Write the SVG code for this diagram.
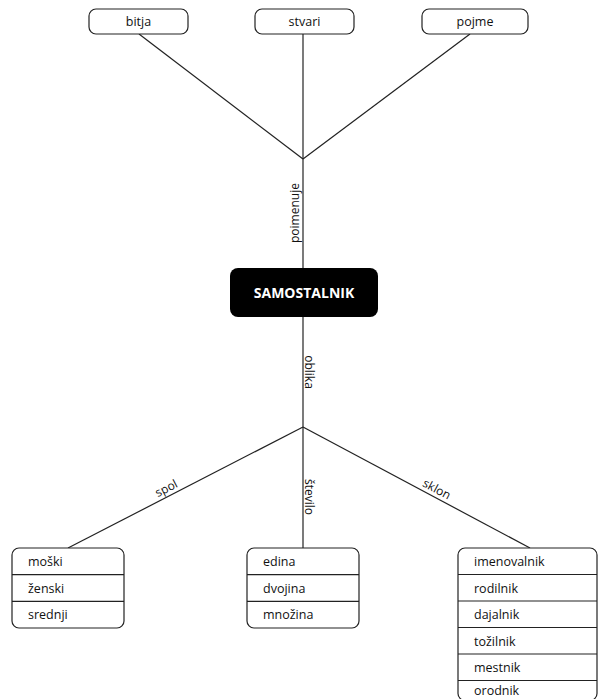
<svg xmlns="http://www.w3.org/2000/svg" width="605" height="699" viewBox="0 0 605 699">
<style>
.bg{fill:#fff}
.box{fill:#fff;stroke:#222;stroke-width:1.2}
.sep{stroke:#222;stroke-width:1.2}
.conn{stroke:#222;stroke-width:1.2;fill:none}
.t{font-family:"Open Sans","DejaVu Sans",sans-serif;font-size:12.5px;fill:#111}
.c{text-anchor:middle}
.main{font-family:"Open Sans","DejaVu Sans",sans-serif;font-size:14px;font-weight:bold;fill:#fff;text-anchor:middle}
.lbl{font-family:"Open Sans","DejaVu Sans",sans-serif;font-size:12px;fill:#111;text-anchor:middle}
</style>
<rect class="bg" x="0" y="0" width="605" height="699"/>
<g id="connectors">
<line class="conn" x1="139" y1="34" x2="303" y2="159"/>
<line class="conn" x1="303" y1="34" x2="303" y2="159"/>
<line class="conn" x1="470" y1="34" x2="303" y2="159"/>
<line class="conn" x1="303" y1="159" x2="303" y2="268"/>
<line class="conn" x1="303" y1="317" x2="303" y2="427"/>
<line class="conn" x1="303" y1="427" x2="68" y2="548"/>
<line class="conn" x1="303" y1="427" x2="303" y2="548"/>
<line class="conn" x1="303" y1="427" x2="530" y2="548"/>
<text class="lbl" transform="translate(299,213) rotate(-90)">poimenuje</text>
<text class="lbl" transform="translate(305,372) rotate(90)">oblika</text>
<text class="lbl" transform="translate(305,497) rotate(90)">število</text>
<text class="lbl" transform="translate(170,495.5) rotate(-27.25)" y="-4">spol</text>
<text class="lbl" transform="translate(433,496.3) rotate(28.06)" y="-4">sklon</text>
</g>
<g id="bitja">
<rect class="box" x="89" y="9" width="99" height="25" rx="7"/>
<text class="t c" x="138.5" y="26">bitja</text>
</g>
<g id="stvari">
<rect class="box" x="255" y="9" width="99" height="25" rx="7"/>
<text class="t c" x="304.5" y="26">stvari</text>
</g>
<g id="pojme">
<rect class="box" x="422" y="9" width="106" height="25" rx="7"/>
<text class="t c" x="475" y="26">pojme</text>
</g>
<g id="samostalnik">
<rect x="230" y="268" width="148" height="49" rx="8" fill="#000"/>
<text class="main" x="304" y="298">SAMOSTALNIK</text>
</g>
<g id="spol">
<rect class="box" x="12" y="548" width="112" height="80" rx="7"/>
<line class="sep" x1="12" y1="574.7" x2="124" y2="574.7"/>
<line class="sep" x1="12" y1="601.3" x2="124" y2="601.3"/>
<text class="t" x="28" y="566">moški</text>
<text class="t" x="28" y="592.5">ženski</text>
<text class="t" x="28" y="619">srednji</text>
</g>
<g id="stevilo">
<rect class="box" x="247" y="548" width="112" height="80" rx="7"/>
<line class="sep" x1="247" y1="574.7" x2="359" y2="574.7"/>
<line class="sep" x1="247" y1="601.3" x2="359" y2="601.3"/>
<text class="t" x="263" y="566">edina</text>
<text class="t" x="263" y="592.5">dvojina</text>
<text class="t" x="263" y="619">množina</text>
</g>
<g id="sklon">
<rect class="box" x="458" y="548" width="139" height="152.5" rx="7"/>
<line class="sep" x1="458" y1="574.5" x2="597" y2="574.5"/>
<line class="sep" x1="458" y1="601" x2="597" y2="601"/>
<line class="sep" x1="458" y1="627.5" x2="597" y2="627.5"/>
<line class="sep" x1="458" y1="654" x2="597" y2="654"/>
<line class="sep" x1="458" y1="680.5" x2="597" y2="680.5"/>
<text class="t" x="474" y="566">imenovalnik</text>
<text class="t" x="474" y="592.5">rodilnik</text>
<text class="t" x="474" y="619">dajalnik</text>
<text class="t" x="474" y="645.5">tožilnik</text>
<text class="t" x="474" y="672">mestnik</text>
<text class="t" x="474" y="694.5">orodnik</text>
</g>
</svg>
